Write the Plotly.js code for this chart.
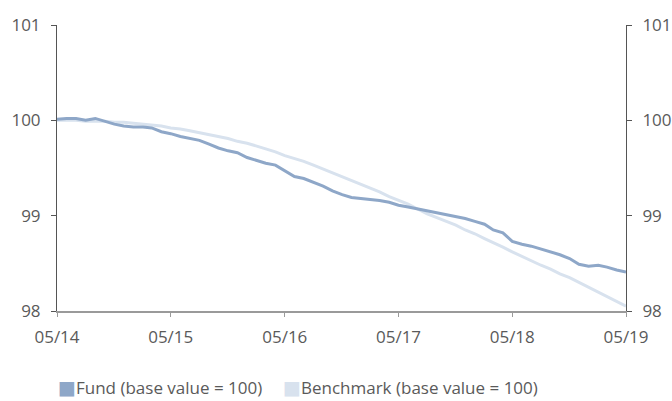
<!DOCTYPE html>
<html>
<head>
<meta charset="utf-8">
<script src="https://cdn.plot.ly/plotly-3.0.1.min.js"></script>
<style>html,body{margin:0;padding:0;background:#fff;}#chart{width:672px;height:401px;}</style>
</head>
<body>
<div id="chart"></div>
<script>
var dates = [
 "2014-05","2014-06","2014-07","2014-08","2014-09","2014-10","2014-11","2014-12",
 "2015-01","2015-02","2015-03","2015-04","2015-05","2015-06","2015-07","2015-08","2015-09","2015-10","2015-11","2015-12",
 "2016-01","2016-02","2016-03","2016-04","2016-05","2016-06","2016-07","2016-08","2016-09","2016-10","2016-11","2016-12",
 "2017-01","2017-02","2017-03","2017-04","2017-05","2017-06","2017-07","2017-08","2017-09","2017-10","2017-11","2017-12",
 "2018-01","2018-02","2018-03","2018-04","2018-05","2018-06","2018-07","2018-08","2018-09","2018-10","2018-11","2018-12",
 "2019-01","2019-02","2019-03","2019-04","2019-05"
];
var fund = [
 100.01,100.02,100.02,100.00,100.02,99.99,99.96,99.94,
 99.93,99.93,99.92,99.88,99.86,99.83,99.81,99.79,99.75,99.71,99.68,99.66,
 99.61,99.58,99.55,99.53,99.47,99.41,99.39,99.35,99.31,99.26,99.22,99.19,
 99.18,99.17,99.16,99.14,99.11,99.09,99.07,99.05,99.03,99.01,98.99,98.97,
 98.94,98.91,98.85,98.82,98.73,98.70,98.68,98.65,98.62,98.59,98.55,98.49,
 98.47,98.48,98.46,98.43,98.41
];
var benchmark = [
 100.00,100.00,100.00,99.99,99.99,99.99,99.98,99.98,
 99.97,99.96,99.95,99.94,99.92,99.91,99.89,99.87,99.85,99.83,99.81,99.78,
 99.76,99.73,99.70,99.67,99.63,99.60,99.57,99.53,99.49,99.45,99.41,99.37,
 99.33,99.29,99.25,99.20,99.16,99.12,99.07,99.02,98.98,98.94,98.90,98.85,
 98.81,98.76,98.72,98.67,98.62,98.57,98.53,98.48,98.44,98.39,98.35,98.30,
 98.25,98.20,98.15,98.10,98.05
];
var seriesNames = ["Fund (base value = 100)", "Benchmark (base value = 100)"];
var seriesColors = ["#8ea7c8", "#d8e2ee"];
var yTicks = [98, 99, 100, 101];

var FONT = "'Open Sans', sans-serif";
var TXT = "#5a5a5a";
function legendName(i) {
  return '<span style="color:' + seriesColors[i] + ';font-family:\'DejaVu Sans\';font-size:19px">■</span>' + seriesNames[i];
}
var traces = [
  {x: dates, y: benchmark, type: "scatter", mode: "lines", line: {color: seriesColors[1], width: 3}, showlegend: false, hoverinfo: "skip"},
  {x: dates, y: fund, type: "scatter", mode: "lines", line: {color: seriesColors[0], width: 3}, showlegend: false, hoverinfo: "skip"},
  {x: [null], y: [null], yaxis: "y2", type: "scatter", mode: "lines", line: {width: 0, color: "rgba(0,0,0,0)"},
   name: legendName(0), legend: "legend", showlegend: true},
  {x: [null], y: [null], yaxis: "y2", type: "scatter", mode: "lines", line: {width: 0, color: "rgba(0,0,0,0)"},
   name: legendName(1), legend: "legend2", showlegend: true}
];
var yCommon = {
  range: [98, 101], tickvals: yTicks, ticktext: yTicks.map(String),
  showgrid: false, zeroline: false, showline: true, linecolor: "#555", linewidth: 1,
  ticks: "outside", ticklen: 5, tickcolor: "#555", tickfont: {size: 17, color: TXT, family: FONT},
  ticklabelstandoff: 7, fixedrange: true
};
var legendCommon = {orientation: "h", xanchor: "left", y: -0.268, yanchor: "middle",
  font: {size: 17, color: TXT, family: FONT}, bgcolor: "rgba(0,0,0,0)", borderwidth: 0, itemclick: false};
var layout = {
  width: 672, height: 401,
  margin: {l: 57, r: 46, t: 25, b: 90, autoexpand: false},
  paper_bgcolor: "#fff", plot_bgcolor: "#fff",
  font: {family: FONT, color: TXT},
  xaxis: {
    type: "date", range: ["2014-05-01", "2019-05-01"], tick0: "2014-05-01", dtick: "M12", tickformat: "%m/%y",
    showgrid: false, zeroline: false, showline: true, linecolor: "#9a9a9a", linewidth: 1.5,
    ticks: "outside", ticklen: 4, tickcolor: "#9a9a9a", tickfont: {size: 17, color: TXT, family: FONT},
    ticklabelstandoff: 6
  },
  yaxis: Object.assign({}, yCommon, {side: "left"}),
  yaxis2: Object.assign({}, yCommon, {side: "right", overlaying: "y", anchor: "x"}),
  legend: Object.assign({}, legendCommon, {x: -0.0685}),
  legend2: Object.assign({}, legendCommon, {x: 0.3269}),
  showlegend: true
};
Plotly.newPlot("chart", traces, layout, {displayModeBar: false, staticPlot: true});
</script>
</body>
</html>
